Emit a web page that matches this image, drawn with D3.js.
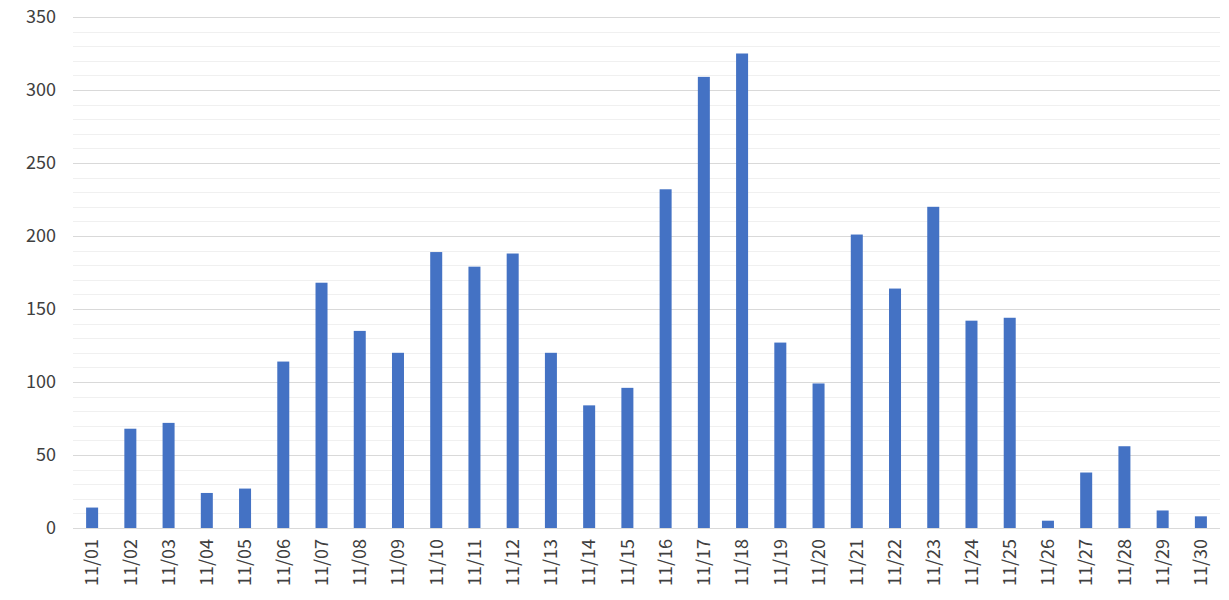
<!DOCTYPE html>
<html><head><meta charset="utf-8">
<script src="https://cdn.jsdelivr.net/npm/d3@7"></script>
<style>body{margin:0;background:#fff}svg{display:block}text{font-family:"Noto Sans CJK JP","Noto Sans",sans-serif;fill:#404040}</style>
</head><body><svg id="c" width="1229" height="600"></svg>
<script>
const categories = ["11/01","11/02","11/03","11/04","11/05","11/06","11/07","11/08","11/09","11/10","11/11","11/12","11/13","11/14","11/15","11/16","11/17","11/18","11/19","11/20","11/21","11/22","11/23","11/24","11/25","11/26","11/27","11/28","11/29","11/30"];
const values = [14,68,72,24,27,114,168,135,120,189,179,188,120,84,96,232,309,325,127,99,201,164,220,142,144,5,38,56,12,8];
const yTicks = [0,50,100,150,200,250,300,350];
const yMinor = d3.range(0,351,10);

const svg = d3.select("#c");
const L=73, R=1220, T=17, B=528;
const x = d3.scaleBand().domain(categories).range([L,R]).paddingInner(0.686).paddingOuter(0.343);
const y = d3.scaleLinear().domain([0,350]).range([B,T]);

svg.append("g").selectAll("line").data(yMinor.filter(v=>v%50!==0)).join("line")
 .attr("x1",L).attr("x2",R).attr("y1",d=>Math.round(y(d))+0.5).attr("y2",d=>Math.round(y(d))+0.5)
 .attr("stroke","#f0f0f0").attr("stroke-width",1);
svg.append("g").selectAll("line").data(yTicks).join("line")
 .attr("x1",L).attr("x2",R).attr("y1",d=>Math.round(y(d))+0.5).attr("y2",d=>Math.round(y(d))+0.5)
 .attr("stroke","#d9d9d9").attr("stroke-width",1);

svg.append("g").selectAll("rect").data(values).join("rect")
 .attr("x",(d,i)=>x(categories[i])).attr("width",x.bandwidth())
 .attr("y",d=>y(d)).attr("height",d=>y(0)-y(d)).attr("fill","#4472C4");

svg.append("g").selectAll("text").data(yTicks).join("text")
 .attr("x",56).attr("y",d=>y(d)).attr("dy","0.35em").attr("text-anchor","end")
 .attr("font-size",18).text(d=>d);

svg.append("g").selectAll("text").data(categories).join("text")
 .attr("transform",d=>`translate(${x(d)+x.bandwidth()/2},539) rotate(-90)`)
 .attr("dy","0.35em").attr("text-anchor","end").attr("font-size",18).text(d=>d);
</script></body></html>
